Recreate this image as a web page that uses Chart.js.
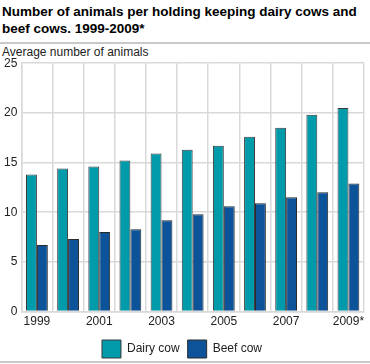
<!DOCTYPE html>
<html lang="en">
<head>
    <meta charset="UTF-8">
    <title>Dairy and beef cows per holding</title>
    <script src="https://cdn.jsdelivr.net/npm/chart.js"></script>
    <style>
        body { margin: 0; background: #fff; font-family: "Liberation Sans", Arial, sans-serif; }
        .tela { position: relative; width: 370px; height: 364px; overflow: hidden; }
        .titulo { position: absolute; left: 2px; top: 3px; margin: 0; font-size: 13.5px; font-weight: bold; line-height: 17px; color: #000; }
        .linha { position: absolute; left: 0; width: 370px; height: 2px; background: #c8c8c8; z-index: 2; }
        .eixo { position: absolute; left: 2px; font-size: 12px; color: #222; }
        .grafico { position: absolute; left: 0; top: 52px; width: 370px; height: 316px; }
    </style>
</head>
<body>
    <div class="tela">
        <h3 class="titulo">Number of animals per holding keeping dairy cows and<br>beef cows. 1999-2009*</h3>
        <div class="linha" style="top: 42px"></div>
        <div class="eixo" style="top: 45px">Average number of animals</div>
        <div class="grafico">
            <canvas id="myChartCanvas1" width="370" height="316"></canvas>
        </div>
        <div class="linha" style="top: 361px"></div>
    </div>
<script>
    // dados
    const anos = ['1999', '2000', '2001', '2002', '2003', '2004', '2005', '2006', '2007', '2008', '2009*'];
    const leiteiras = [13.8, 14.4, 14.6, 15.2, 15.9, 16.3, 16.7, 17.6, 18.5, 19.8, 20.5];
    const corte = [6.7, 7.3, 8.0, 8.3, 9.2, 9.8, 10.6, 10.9, 11.5, 12.0, 12.9];
    const ticksY = [0, 5, 10, 15, 20, 25];

    Chart.defaults.font.family = '"Liberation Sans", Arial, sans-serif';
    Chart.defaults.font.size = 12;
    Chart.defaults.color = '#222';

    const config = {
        type: 'bar',
        data: {
            labels: anos,
            datasets: [{
                label: 'Dairy cow',
                data: leiteiras,
                backgroundColor: '#009baa',
                borderColor: '#3a3a3a',
                borderWidth: 1
            },
            {
                label: 'Beef cow',
                data: corte,
                backgroundColor: '#0d5399',
                borderColor: '#2a2a2a',
                borderWidth: 1
            }]
        },
        options: {
            responsive: false,
            animation: false,
            layout: { padding: { left: 0, right: 6, top: 5, bottom: 0 } },
            datasets: { bar: { categoryPercentage: 0.7, barPercentage: 1 } },
            plugins: {
                legend: {
                    position: 'bottom',
                    labels: { boxWidth: 19, boxHeight: 18, padding: 8, color: '#222', font: { size: 12 } }
                },
                tooltip: { enabled: false }
            },
            scales: {
                x: {
                    grid: { color: '#d9d9d9', lineWidth: 1.5, drawTicks: false, offset: true },
                    border: { color: '#d9d9d9', width: 1.5 },
                    ticks: {
                        autoSkip: false,
                        maxRotation: 0,
                        padding: 3,
                        callback: function (v, i) { return i % 2 === 0 ? anos[i] : ''; }
                    }
                },
                y: {
                    min: 0,
                    max: 25,
                    afterBuildTicks: function (ax) { ax.ticks = ticksY.map(v => ({ value: v })); },
                    grid: { color: '#d9d9d9', lineWidth: 1.5, drawTicks: false },
                    border: { color: '#d9d9d9', width: 1.5 },
                    ticks: { padding: 4 }
                }
            }
        }
    };

    let myChart = new Chart(document.getElementById('myChartCanvas1'), config);
</script>
</body>
</html>
